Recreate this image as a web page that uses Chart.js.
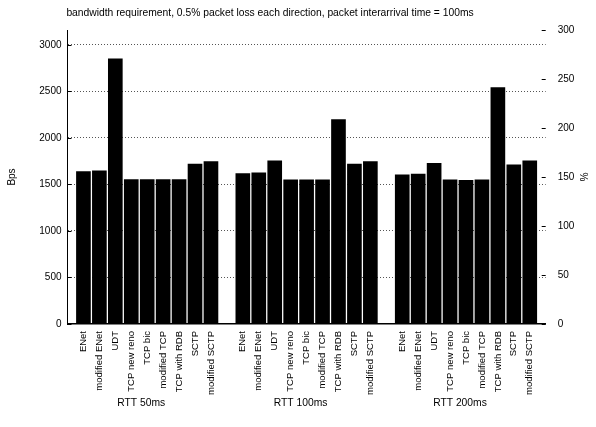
<!DOCTYPE html>
<html>
<head>
<meta charset="UTF-8">
<title>bandwidth requirement</title>
<style>
  html, body { margin: 0; padding: 0; background: #fff; }
  #wrap { width: 596px; height: 427px; }
</style>
<script src="https://cdn.jsdelivr.net/npm/chart.js@4.4.1/dist/chart.umd.min.js"></script>
</head>
<body>
<div id="wrap"><canvas id="chart" width="596" height="427"></canvas></div>
<script>
// data
const protocols = ['ENet', 'modified ENet', 'UDT', 'TCP new reno', 'TCP bic', 'modified TCP', 'TCP with RDB', 'SCTP', 'modified SCTP'];
const groups = ['RTT 50ms', 'RTT 100ms', 'RTT 200ms'];
const rtt50 = [1639, 1647, 2849, 1553, 1553, 1553, 1553, 1719, 1747];
const rtt100 = [1618, 1625, 1755, 1550, 1550, 1550, 2196, 1719, 1747];
const rtt200 = [1604, 1611, 1726, 1550, 1543, 1550, 2540, 1712, 1755];
const leftTicks = [0, 500, 1000, 1500, 2000, 2500, 3000];
const rightTicks = [0, 50, 100, 150, 200, 250, 300];
const titleText = 'bandwidth requirement, 0.5% packet loss each direction, packet interarrival time = 100ms';

// one empty slot before, between and after the groups
const labels = [''];
const values = [null];
[rtt50, rtt100, rtt200].forEach(g => {
  protocols.forEach((p, i) => { labels.push(p); values.push(g[i]); });
  labels.push('');
  values.push(null);
});

const FONT = 'Liberation Sans, Arial, Helvetica, sans-serif';

const extras = {
  id: 'extras',
  afterDraw(chart) {
    const ctx = chart.ctx;
    const area = chart.chartArea;
    const x = chart.scales.x;
    const yl = chart.scales.y;
    const yr = chart.scales.y2;
    ctx.save();
    // inward tick marks
    ctx.strokeStyle = '#000';
    ctx.lineWidth = 1;
    ctx.beginPath();
    yl.ticks.forEach(t => {
      const py = Math.round(yl.getPixelForValue(t.value)) + 0.5;
      ctx.moveTo(area.left, py); ctx.lineTo(area.left + 4, py);
    });
    yr.ticks.forEach(t => {
      const py = Math.round(yr.getPixelForValue(t.value)) + 0.5;
      ctx.moveTo(area.right - 4, py); ctx.lineTo(area.right, py);
    });
    ctx.stroke();
    // title
    ctx.fillStyle = '#000';
    ctx.font = '10.3px ' + FONT;
    ctx.textAlign = 'center';
    ctx.textBaseline = 'middle';
    ctx.fillText(titleText, 270, 13);
    // group labels
    ctx.font = '10.3px ' + FONT;
    groups.forEach((g, i) => {
      const cx = x.getPixelForValue(5 + i * 10) - 6;
      ctx.fillText(g, cx, 403);
    });
    ctx.restore();
  }
};

new Chart(document.getElementById('chart'), {
  type: 'bar',
  data: {
    labels: labels,
    datasets: [{
      data: values,
      backgroundColor: '#000',
      borderWidth: 0,
      barThickness: 14,
      yAxisID: 'y'
    }]
  },
  options: {
    responsive: false,
    animation: false,
    layout: { padding: { top: 30, right: 0, bottom: 0, left: 0 } },
    plugins: { legend: { display: false }, tooltip: { enabled: false } },
    scales: {
      x: {
        type: 'category',
        offset: false,
        grid: { display: false, drawTicks: false },
        border: { display: true, color: '#000', width: 1.5 },
        ticks: {
          autoSkip: false,
          minRotation: 90,
          maxRotation: 90,
          padding: 7,
          color: '#000',
          font: { family: FONT, size: 9.5 }
        },
        afterFit: s => { s.height = 103; }
      },
      y: {
        position: 'left',
        min: 0,
        max: 3160,
        afterBuildTicks: s => { s.ticks = leftTicks.map(v => ({ value: v })); },
        grid: {
          color: c => (c.tick && c.tick.value === 0) ? 'rgba(0,0,0,0)' : '#555',
          lineWidth: 1,
          drawTicks: false
        },
        border: { display: true, color: '#000', width: 1, dash: [1, 2] },
        ticks: {
          padding: 6,
          color: '#000',
          font: { family: FONT, size: 10 },
          callback: v => String(v)
        },
        title: {
          display: true,
          text: 'Bps',
          color: '#000',
          font: { family: FONT, size: 10 },
          padding: { top: 6, bottom: 0 }
        },
        afterFit: s => { s.width = 67.5; }
      },
      y2: {
        position: 'right',
        min: 0,
        max: 300,
        afterBuildTicks: s => { s.ticks = rightTicks.map(v => ({ value: v })); },
        grid: { display: false, drawTicks: false },
        border: { display: false },
        ticks: {
          padding: 12,
          color: '#000',
          font: { family: FONT, size: 10 },
          callback: v => String(v)
        },
        title: {
          display: true,
          text: '%',
          color: '#000',
          font: { family: FONT, size: 10 },
          padding: { top: 7, bottom: 0 }
        },
        afterFit: s => { s.width = 50.3; }
      }
    }
  },
  plugins: [extras]
});
</script>
</body>
</html>
